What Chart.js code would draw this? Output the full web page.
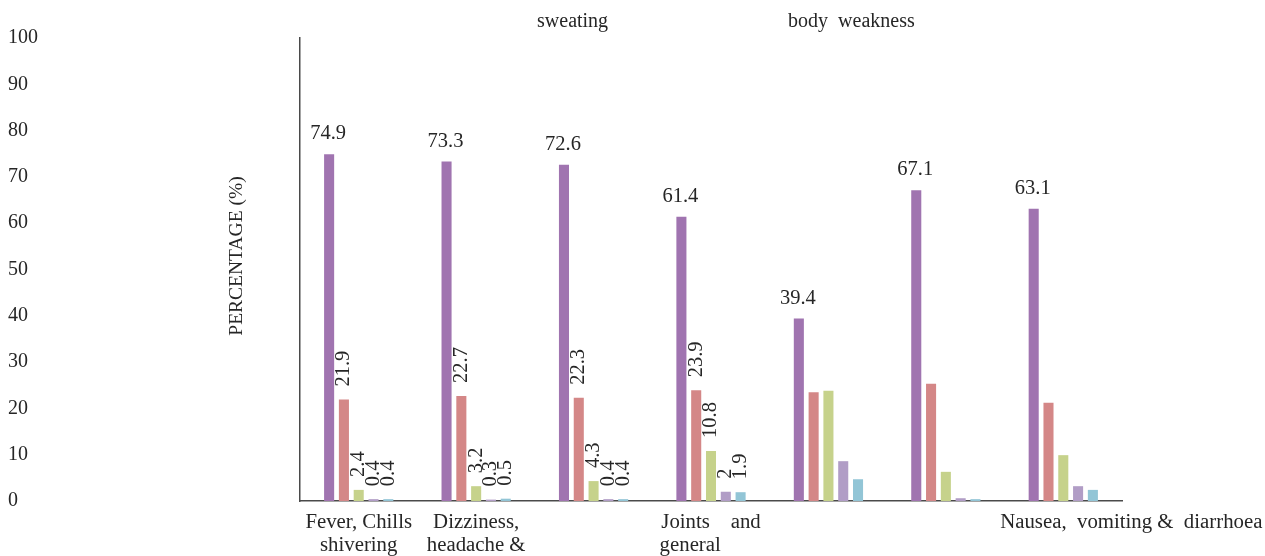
<!DOCTYPE html>
<html>
<head>
<meta charset="utf-8">
<script src="https://cdn.jsdelivr.net/npm/chart.js@4.4.1/dist/chart.umd.min.js"></script>
<style>
  html, body { margin: 0; padding: 0; background: #ffffff; }
  canvas { display: block; }
</style>
</head>
<body>
<canvas id="chart" width="1265" height="556"></canvas>
<script>
// Category labels under the axis (multi-line where the label wraps)
const categoryLabels = [
  ["Fever, Chills", "shivering"],
  ["Dizziness,", "headache &"],
  "",
  ["Joints    and", "general        "],
  "",
  "",
  ""
];

// Percentages per symptom group, one array per response series
const seriesA = [74.9, 73.3, 72.6, 61.4, 39.4, 67.1, 63.1];
const seriesB = [21.9, 22.7, 22.3, 23.9, 23.5, 25.3, 21.2];
const seriesC = [2.4, 3.2, 4.3, 10.8, 23.8, 6.3, 9.9];
const seriesD = [0.4, 0.3, 0.4, 2, 8.6, 0.6, 3.2];
const seriesE = [0.4, 0.5, 0.4, 1.9, 4.7, 0.4, 2.4];

const seriesNames = ["Series A", "Series B", "Series C", "Series D", "Series E"];
const seriesColors = ["#A074B0", "#D48787", "#C6D28B", "#B19DC6", "#92C5D6"];

// y-axis tick values
const yTicks = [0, 10, 20, 30, 40, 50, 60, 70, 80, 90, 100];

// groups whose smaller bars carry a (rotated) value label
const verticalLabelCategories = [0, 1, 2, 3];

// label fragments printed away from the axis
const extraNotes = [
  { text: "sweating", category: 2, dx: -21, y: 22, size: 20 },
  { text: "body  weakness", category: 4, dx: 23, y: 22, size: 20 },
  { text: "Nausea,  vomiting &  diarrhoea", category: 6, dx: 68, y: 523, size: 20.8 }
];

const FONT = '"Liberation Serif", "Times New Roman", serif';
const TEXT = "#262626";

const valueLabels = {
  id: "valueLabels",
  afterDatasetsDraw(chart) {
    const ctx = chart.ctx;
    ctx.save();
    ctx.font = "20.5px " + FONT;
    ctx.fillStyle = TEXT;
    chart.data.datasets.forEach((ds, di) => {
      const meta = chart.getDatasetMeta(di);
      meta.data.forEach((bar, i) => {
        const txt = String(ds.data[i]);
        if (di === 0) {
          ctx.textAlign = "center";
          ctx.textBaseline = "alphabetic";
          ctx.fillText(txt, bar.x - 1, bar.y - 15);
        } else if (verticalLabelCategories.includes(i)) {
          ctx.save();
          ctx.translate(bar.x, bar.y - 13);
          ctx.rotate(-Math.PI / 2);
          ctx.textAlign = "left";
          ctx.textBaseline = "middle";
          ctx.fillText(txt, 0, 0);
          ctx.restore();
        }
      });
    });
    ctx.restore();
  }
};

const looseText = {
  id: "looseText",
  afterDraw(chart) {
    const ctx = chart.ctx;
    const xs = chart.scales.x;
    ctx.save();
    ctx.fillStyle = TEXT;
    ctx.textAlign = "center";
    ctx.textBaseline = "middle";
    extraNotes.forEach(n => {
      ctx.font = n.size + "px " + FONT;
      ctx.fillText(n.text, xs.getPixelForValue(n.category) + n.dx, n.y);
    });
    // vertical axis title
    ctx.font = "19.5px " + FONT;
    ctx.translate(237, 256);
    ctx.rotate(-Math.PI / 2);
    ctx.fillText("PERCENTAGE (%)", 0, 0);
    ctx.restore();
  }
};

const datasets = [seriesA, seriesB, seriesC, seriesD, seriesE].map((values, k) => ({
  label: seriesNames[k],
  data: values,
  backgroundColor: seriesColors[k],
  borderWidth: 0,
  categoryPercentage: 0.63,
  barPercentage: 0.68
}));

new Chart(document.getElementById("chart"), {
  type: "bar",
  data: { labels: categoryLabels, datasets: datasets },
  options: {
    responsive: false,
    animation: false,
    layout: { padding: { left: 8, right: 143, top: 38, bottom: 0 } },
    plugins: {
      legend: { display: false },
      tooltip: { enabled: false }
    },
    scales: {
      x: {
        grid: { display: false, drawTicks: false },
        border: { display: true, color: "#4a4a4a", width: 1.5 },
        ticks: {
          autoSkip: false,
          maxRotation: 0,
          minRotation: 0,
          padding: 10,
          color: TEXT,
          font: { family: FONT, size: 20.8, lineHeight: 1.12 }
        },
        afterFit(scale) { scale.height = 55; }
      },
      y: {
        min: 0,
        max: 100,
        afterBuildTicks(scale) { scale.ticks = yTicks.map(v => ({ value: v })); },
        grid: { display: false, drawTicks: false },
        border: { display: true, color: "#4a4a4a", width: 1.5 },
        ticks: {
          crossAlign: "far",
          padding: 0,
          color: TEXT,
          font: { family: FONT, size: 20 }
        },
        afterFit(scale) { scale.width = 292; }
      }
    }
  },
  plugins: [valueLabels, looseText]
});
</script>
</body>
</html>
